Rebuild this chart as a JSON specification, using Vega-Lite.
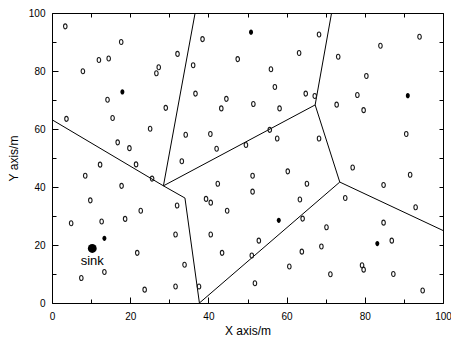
{
  "$schema": "https://vega.github.io/schema/vega-lite/v6.json",
  "width": 391,
  "height": 290,
  "autosize": {"type": "none"},
  "padding": {"left": 52, "top": 13, "right": 8, "bottom": 39},
  "background": "white",
  "config": {
    "view": {"stroke": "black", "strokeWidth": 1},
    "axis": {
      "labelFont": "Liberation Sans",
      "labelFontSize": 10,
      "labelColor": "black",
      "titleFont": "Liberation Sans",
      "titleFontSize": 12,
      "titleFontWeight": "normal",
      "titleColor": "black",
      "tickColor": "black",
      "tickWidth": 1,
      "domain": false,
      "grid": false,
      "labelFlush": false
    }
  },
  "datasets": {
    "edges": [
      {"x1": 0, "y1": 63.2, "x2": 28.5, "y2": 40.4},
      {"x1": 28.5, "y1": 40.4, "x2": 34.0, "y2": 36.2},
      {"x1": 28.5, "y1": 40.4, "x2": 36.6, "y2": 100},
      {"x1": 28.5, "y1": 40.4, "x2": 67.3, "y2": 68.3},
      {"x1": 34.0, "y1": 36.2, "x2": 37.7, "y2": 0},
      {"x1": 37.7, "y1": 0, "x2": 73.6, "y2": 41.7},
      {"x1": 73.6, "y1": 41.7, "x2": 67.3, "y2": 68.3},
      {"x1": 73.6, "y1": 41.7, "x2": 100, "y2": 25.0},
      {"x1": 67.3, "y1": 68.3, "x2": 71.5, "y2": 100}
    ],
    "nodes": [
      {"x": 3.4, "y": 95.4}, {"x": 17.7, "y": 90.0}, {"x": 12.0, "y": 83.8}, {"x": 14.5, "y": 84.3},
      {"x": 7.9, "y": 79.9}, {"x": 32.1, "y": 85.9}, {"x": 36.1, "y": 82.0}, {"x": 27.3, "y": 81.3},
      {"x": 26.7, "y": 79.2}, {"x": 36.7, "y": 72.2}, {"x": 14.2, "y": 70.1}, {"x": 29.1, "y": 67.3},
      {"x": 3.7, "y": 63.5}, {"x": 15.5, "y": 63.8}, {"x": 25.1, "y": 60.1}, {"x": 34.2, "y": 58.0},
      {"x": 16.8, "y": 55.4}, {"x": 19.8, "y": 53.4}, {"x": 38.5, "y": 91.0}, {"x": 68.3, "y": 92.6},
      {"x": 63.2, "y": 86.2}, {"x": 47.5, "y": 84.1}, {"x": 56.0, "y": 80.6}, {"x": 73.2, "y": 84.9},
      {"x": 57.0, "y": 74.5}, {"x": 44.6, "y": 70.4}, {"x": 64.9, "y": 72.2}, {"x": 67.2, "y": 71.4},
      {"x": 43.3, "y": 67.1}, {"x": 51.5, "y": 68.6}, {"x": 58.2, "y": 67.1}, {"x": 72.8, "y": 68.4},
      {"x": 40.5, "y": 58.3}, {"x": 55.7, "y": 59.7}, {"x": 57.6, "y": 56.7}, {"x": 68.3, "y": 56.7},
      {"x": 49.6, "y": 54.5}, {"x": 42.1, "y": 53.2}, {"x": 94.0, "y": 91.8}, {"x": 84.0, "y": 88.7},
      {"x": 80.4, "y": 78.3}, {"x": 78.1, "y": 71.7}, {"x": 79.7, "y": 66.5}, {"x": 90.6, "y": 58.3},
      {"x": 12.3, "y": 47.7}, {"x": 21.5, "y": 47.8}, {"x": 33.2, "y": 48.9}, {"x": 8.5, "y": 43.9},
      {"x": 25.6, "y": 42.9}, {"x": 17.8, "y": 40.4}, {"x": 9.8, "y": 35.4}, {"x": 32.0, "y": 33.6},
      {"x": 22.7, "y": 31.8}, {"x": 18.7, "y": 29.0}, {"x": 12.7, "y": 28.1}, {"x": 4.9, "y": 27.5},
      {"x": 31.6, "y": 23.6}, {"x": 21.8, "y": 17.3}, {"x": 33.9, "y": 13.2}, {"x": 13.4, "y": 10.7},
      {"x": 7.5, "y": 8.6}, {"x": 31.6, "y": 5.7}, {"x": 23.7, "y": 4.6}, {"x": 37.6, "y": 5.7},
      {"x": 60.3, "y": 45.4}, {"x": 51.3, "y": 43.9}, {"x": 42.4, "y": 41.1}, {"x": 65.2, "y": 41.1},
      {"x": 51.3, "y": 38.4}, {"x": 39.4, "y": 35.9}, {"x": 40.6, "y": 34.6}, {"x": 63.4, "y": 35.7},
      {"x": 44.8, "y": 31.8}, {"x": 64.1, "y": 29.1}, {"x": 70.2, "y": 26.1}, {"x": 40.6, "y": 23.6},
      {"x": 52.9, "y": 21.5}, {"x": 43.5, "y": 17.3}, {"x": 51.1, "y": 16.4}, {"x": 63.9, "y": 17.7},
      {"x": 68.9, "y": 19.5}, {"x": 60.7, "y": 12.6}, {"x": 71.2, "y": 9.9}, {"x": 51.9, "y": 6.8},
      {"x": 76.9, "y": 46.7}, {"x": 91.6, "y": 44.2}, {"x": 84.8, "y": 40.7}, {"x": 75.0, "y": 36.2},
      {"x": 93.0, "y": 33.0}, {"x": 84.8, "y": 27.7}, {"x": 86.9, "y": 21.5}, {"x": 79.3, "y": 13.0},
      {"x": 79.7, "y": 11.5}, {"x": 87.3, "y": 10.0}, {"x": 94.8, "y": 4.3}
    ],
    "heads": [
      {"x": 18.0, "y": 72.8}, {"x": 50.9, "y": 93.4}, {"x": 91.0, "y": 71.5},
      {"x": 13.4, "y": 22.3}, {"x": 58.0, "y": 28.5}, {"x": 83.2, "y": 20.5}
    ],
    "sink": [{"x": 10.3, "y": 18.8, "label": "sink"}]
  },
  "layer": [
    {
      "data": {"name": "edges"},
      "mark": {"type": "rule", "color": "black", "strokeWidth": 1},
      "encoding": {
        "x": {"field": "x1", "type": "quantitative", "scale": {"domain": [0, 100], "nice": false},
              "axis": {"orient": "top", "values": [0, 10, 20, 30, 40, 50, 60, 70, 80, 90, 100], "labels": false, "title": null, "tickSize": -4}},
        "y": {"field": "y1", "type": "quantitative", "scale": {"domain": [0, 100], "nice": false},
              "axis": {"orient": "right", "values": [0, 10, 20, 30, 40, 50, 60, 70, 80, 90, 100], "labels": false, "title": null, "tickSize": -4}},
        "x2": {"field": "x2"},
        "y2": {"field": "y2"}
      }
    },
    {
      "data": {"name": "nodes"},
      "mark": {"type": "point", "shape": "M0,-1A0.7,1,0,1,1,0,1A0.7,1,0,1,1,0,-1Z", "size": 25, "filled": false, "stroke": "#1a1a1a", "strokeWidth": 1.1, "opacity": 1},
      "encoding": {
        "x": {"field": "x", "type": "quantitative", "scale": {"domain": [0, 100], "nice": false},
              "axis": {"orient": "bottom", "values": [0, 20, 40, 60, 80, 100], "tickSize": -6, "labelPadding": 14, "title": "X axis/m", "titlePadding": 4}},
        "y": {"field": "y", "type": "quantitative", "scale": {"domain": [0, 100], "nice": false},
              "axis": {"orient": "left", "values": [0, 20, 40, 60, 80, 100], "tickSize": -6, "labelPadding": 13, "title": "Y axis/m", "titlePadding": 8}}
      }
    },
    {
      "data": {"name": "heads"},
      "mark": {"type": "point", "shape": "M0,-1A0.75,1,0,1,1,0,1A0.75,1,0,1,1,0,-1Z", "size": 28, "filled": true, "color": "black", "opacity": 1},
      "encoding": {
        "x": {"field": "x", "type": "quantitative", "scale": {"domain": [0, 100], "nice": false},
              "axis": {"orient": "bottom", "values": [10, 30, 50, 70, 90], "labels": false, "title": null, "tickSize": -4}},
        "y": {"field": "y", "type": "quantitative", "scale": {"domain": [0, 100], "nice": false},
              "axis": {"orient": "left", "values": [10, 30, 50, 70, 90], "labels": false, "title": null, "tickSize": -4}}
      }
    },
    {
      "data": {"name": "sink"},
      "mark": {"type": "point", "shape": "circle", "size": 78, "filled": true, "color": "black", "opacity": 1},
      "encoding": {
        "x": {"field": "x", "type": "quantitative", "scale": {"domain": [0, 100], "nice": false}, "axis": null},
        "y": {"field": "y", "type": "quantitative", "scale": {"domain": [0, 100], "nice": false}, "axis": null}
      }
    },
    {
      "data": {"name": "sink"},
      "mark": {"type": "text", "font": "Liberation Sans", "fontSize": 13, "color": "black", "baseline": "middle", "align": "center", "dy": 13},
      "encoding": {
        "x": {"field": "x", "type": "quantitative", "scale": {"domain": [0, 100], "nice": false}, "axis": null},
        "y": {"field": "y", "type": "quantitative", "scale": {"domain": [0, 100], "nice": false}, "axis": null},
        "text": {"field": "label"}
      }
    }
  ],
  "resolve": {"axis": {"x": "independent", "y": "independent"}}
}
